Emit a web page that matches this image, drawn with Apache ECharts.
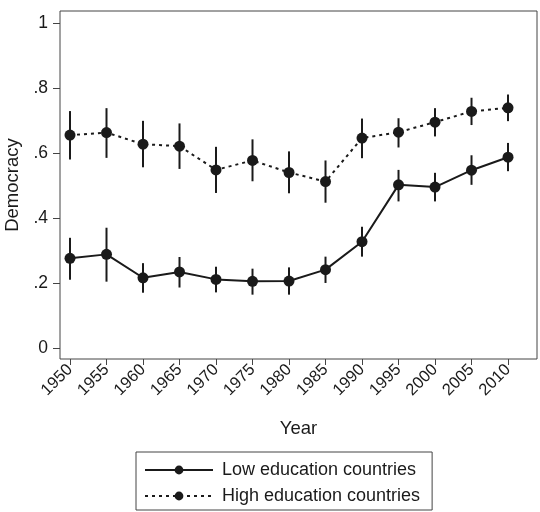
<!DOCTYPE html>
<html>
<head>
<meta charset="utf-8">
<script src="https://cdn.jsdelivr.net/npm/echarts@6/dist/echarts.min.js"></script>
<style>
  html, body { margin: 0; padding: 0; background: #fff; }
  #main { width: 540px; height: 512px; }
</style>
</head>
<body>
<div id="main"></div>
<script>
var years = [1950, 1955, 1960, 1965, 1970, 1975, 1980, 1985, 1990, 1995, 2000, 2005, 2010];

// low education countries: mean and 95% interval
var lowMean = [0.276, 0.288, 0.216, 0.234, 0.211, 0.205, 0.206, 0.241, 0.327, 0.502, 0.495, 0.547, 0.587];
var lowLo   = [0.210, 0.204, 0.170, 0.186, 0.171, 0.164, 0.164, 0.200, 0.281, 0.451, 0.451, 0.502, 0.544];
var lowHi   = [0.339, 0.370, 0.261, 0.280, 0.250, 0.244, 0.248, 0.281, 0.373, 0.548, 0.539, 0.593, 0.631];

// high education countries
var highMean = [0.655, 0.663, 0.627, 0.621, 0.548, 0.577, 0.540, 0.512, 0.646, 0.664, 0.695, 0.728, 0.739];
var highLo   = [0.580, 0.585, 0.556, 0.551, 0.477, 0.513, 0.476, 0.447, 0.584, 0.617, 0.651, 0.686, 0.698];
var highHi   = [0.729, 0.738, 0.699, 0.691, 0.619, 0.642, 0.605, 0.577, 0.706, 0.707, 0.738, 0.770, 0.780];

var yTicks = [0, 0.2, 0.4, 0.6, 0.8, 1];
var yTickLabels = ['0', '.2', '.4', '.6', '.8', '1'];

var chartDom = document.getElementById('main');
var myChart = echarts.init(chartDom);
var option;

var ink = '#1a1a1a';
var font = 'Liberation Sans, Arial, sans-serif';

function pairs(ys) {
  return years.map(function (y, i) { return [y, ys[i]]; });
}
function ranges(lo, hi) {
  return years.map(function (y, i) { return [y, lo[i], hi[i]]; });
}
function drawBar(params, api) {
  var a = api.coord([api.value(0), api.value(1)]);
  var b = api.coord([api.value(0), api.value(2)]);
  return {
    type: 'line',
    shape: { x1: a[0], y1: a[1], x2: b[0], y2: b[1] },
    style: { stroke: ink, lineWidth: 2 }
  };
}

option = {
  animation: false,
  backgroundColor: '#fff',
  textStyle: { fontFamily: font, color: ink },
  grid: {
    left: 60, right: 3, top: 11, bottom: 153,
    outerBoundsMode: 'none',
    containLabel: false,
    show: true, borderColor: '#444', borderWidth: 1, backgroundColor: '#fff'
  },
  xAxis: {
    type: 'value',
    min: 1948.63,
    max: 2013.97,
    name: 'Year',
    nameLocation: 'middle',
    nameGap: 60,
    nameTextStyle: { fontSize: 18.5, color: ink, fontFamily: font },
    axisLine: { show: false, onZero: false },
    splitLine: { show: false },
    axisTick: { show: true, inside: false, length: 6, customValues: years, lineStyle: { color: '#444' } },
    axisLabel: {
      customValues: years,
      rotate: 45,
      margin: 8,
      fontSize: 16.5,
      color: ink,
      fontFamily: font,
      formatter: function (v) { return String(v); }
    }
  },
  yAxis: {
    type: 'value',
    min: -0.034,
    max: 1.037,
    name: 'Democracy',
    nameLocation: 'middle',
    nameRotate: 90,
    nameGap: 37,
    nameTextStyle: { fontSize: 18.5, color: ink, fontFamily: font },
    axisLine: { show: false, onZero: false },
    splitLine: { show: false },
    axisTick: { show: true, inside: false, length: 7, customValues: yTicks, lineStyle: { color: '#444' } },
    axisLabel: {
      customValues: yTicks,
      margin: 12,
      fontSize: 17.5,
      color: ink,
      fontFamily: font,
      formatter: function (v) {
        var i = yTicks.findIndex(function (t) { return Math.abs(t - v) < 1e-6; });
        return i >= 0 ? yTickLabels[i] : '';
      }
    }
  },
  legend: {
    data: ['Low education countries', 'High education countries'],
    orient: 'vertical',
    left: 136,
    top: 452,
    padding: [9, 12, 5, 8],
    itemGap: 8,
    itemWidth: 68,
    itemHeight: 11,
    borderColor: '#444',
    borderWidth: 1,
    textStyle: { fontSize: 18, color: ink, fontFamily: font, padding: [0, 0, 0, 4] }
  },
  series: [
    {
      name: 'low bars',
      type: 'custom',
      renderItem: drawBar,
      data: ranges(lowLo, lowHi),
      z: 1
    },
    {
      name: 'high bars',
      type: 'custom',
      renderItem: drawBar,
      data: ranges(highLo, highHi),
      z: 1
    },
    {
      name: 'Low education countries',
      type: 'line',
      data: pairs(lowMean),
      symbol: 'circle',
      symbolSize: 11,
      itemStyle: { color: ink },
      lineStyle: { color: ink, width: 2, type: 'solid' },
      z: 3
    },
    {
      name: 'High education countries',
      type: 'line',
      data: pairs(highMean),
      symbol: 'circle',
      symbolSize: 11,
      itemStyle: { color: ink },
      lineStyle: { color: ink, width: 2, type: [3, 4] },
      z: 3
    }
  ]
};

option && myChart.setOption(option);
</script>
</body>
</html>
